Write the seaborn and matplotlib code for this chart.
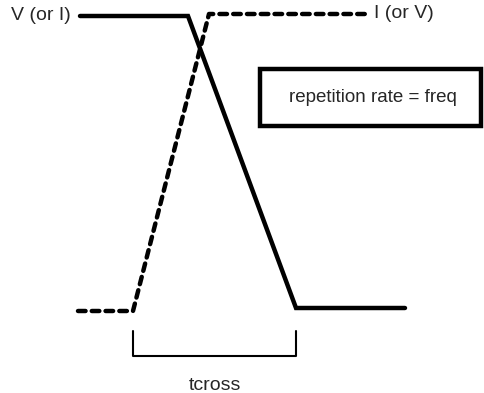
import pandas as pd
import seaborn as sns
import matplotlib
matplotlib.use("Agg")
import matplotlib.pyplot as plt
from matplotlib.patches import Rectangle

# waveform corner points (diagram units, y grows downward)
v_x = [80, 188, 296, 405]
v_y = [16, 16, 308, 308]
i_x = [78, 133, 209, 370]
i_y = [311, 311, 14, 14]

v_label = "V (or I)"
i_label = "I (or V)"
box_text = "repetition rate = freq"
span_label = "tcross"

sns.set_style("white")
plt.rcParams['font.family'] = ['Liberation Sans', 'DejaVu Sans']

fig = plt.figure(figsize=(4.84, 3.93), dpi=100)
ax = fig.add_axes([0, 0, 1, 1])

v = pd.DataFrame({"x": v_x, "y": v_y})
i = pd.DataFrame({"x": i_x, "y": i_y})
sns.lineplot(data=v, x="x", y="y", sort=False, color="black", lw=3.2, ax=ax,
             solid_joinstyle="miter")
sns.lineplot(data=i, x="x", y="y", sort=False, color="black", lw=3.2, ax=ax,
             linestyle=(0, (1.7, 1.4)), dash_capstyle="round")

ax.text(v_x[0] - 9, v_y[0], v_label, ha="right", va="center", fontsize=14)
ax.text(i_x[-1] + 4, i_y[-1], i_label, ha="left", va="center", fontsize=14)

ax.add_patch(Rectangle((260, 69), 221, 57, fill=False, lw=3.2, ec="black",
                       joinstyle="miter"))
ax.text(373, 98, box_text, ha="center", va="center", fontsize=13.5)

# bracket between the two transition starts/ends
ax.plot([i_x[1], i_x[1], v_x[2], v_x[2]], [331, 356, 356, 331],
        color="black", lw=1.5)
ax.text((i_x[1] + v_x[2]) / 2, 385, span_label, ha="center", va="center",
        fontsize=14)

ax.set_xlim(0, 484)
ax.set_ylim(393, 0)
ax.axis("off")
fig.savefig("out.png", dpi=100)
